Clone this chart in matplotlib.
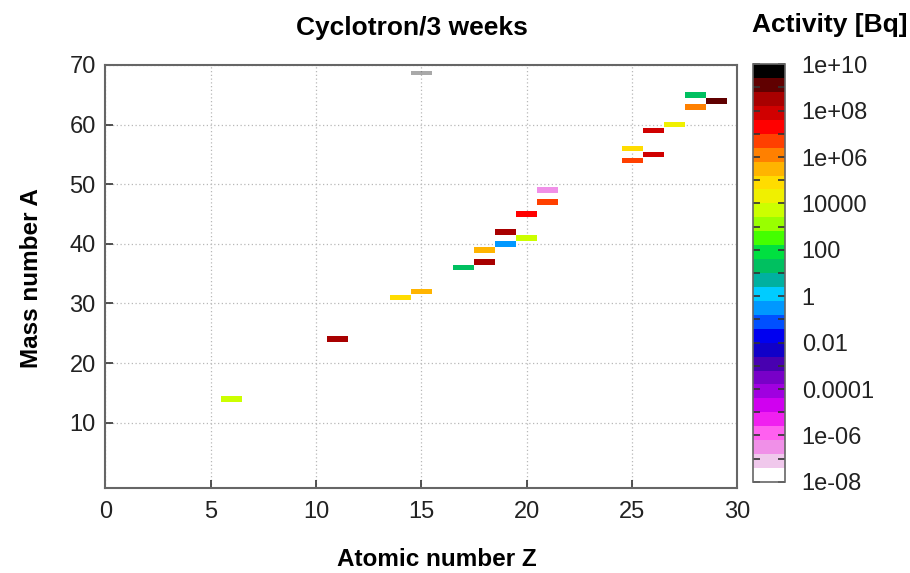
import numpy as np
import matplotlib
matplotlib.use("Agg")
import matplotlib.pyplot as plt
from matplotlib.colors import ListedColormap, LogNorm
from matplotlib.ticker import FixedLocator, FixedFormatter

plt.rcParams['font.family'] = ['Liberation Sans', 'DejaVu Sans']

# isotopes: atomic number, mass number, activity [Bq]
Z = [6, 11, 14, 15, 17, 18, 18, 19, 19, 20, 20, 21, 21, 25, 25, 26, 26, 27, 28, 28, 29]
A = [14, 24, 31, 32, 36, 37, 39, 40, 42, 41, 45, 47, 49, 54, 56, 55, 59, 60, 63, 65, 64]
activity = [5e3, 3e8, 8e4, 3e5, 20, 3e8, 3e5, 0.3, 3e8, 5e3, 2e7, 5e6, 3e-7,
            5e6, 8e4, 8e7, 8e7, 2e4, 1.3e6, 20, 1.2e9]

# faint grey mark at the top edge
ghost_z = [15]
ghost_a = [68.6]

# palette, low to high (30 steps over 1e-8 .. 1e10)
palette = ['#ffffff', '#f0c8ec', '#f090e8', '#ff60f0', '#f020f0', '#d000f0',
           '#a000e0', '#7800c8', '#4800b0', '#1000c8', '#0000f0', '#0050ff',
           '#0098ff', '#00ccff', '#00b0a0', '#00c060', '#00e040', '#44ff00',
           '#99ff00', '#ccff00', '#f0f000', '#ffdc00', '#ffb400', '#ff8000',
           '#ff4000', '#ff0000', '#d00000', '#a80000', '#600000', '#000000']

cbar_ticks = [1e-8, 1e-6, 1e-4, 1e-2, 1, 1e2, 1e4, 1e6, 1e8, 1e10]
cbar_labels = ['1e-08', '1e-06', '0.0001', '0.01', '1', '100', '10000',
               '1e+06', '1e+08', '1e+10']

cmap = ListedColormap(palette)
norm = LogNorm(vmin=1e-8, vmax=1e10)

fig = plt.figure(figsize=(9.1, 5.73), dpi=100)
ax = fig.add_axes([0.1158, 0.148, 0.6945, 0.7386])
cax = fig.add_axes([0.8275, 0.159, 0.0352, 0.729])

colors = [cmap(norm(v)) for v in activity]
ax.barh(A, [1.0] * len(Z), left=np.array(Z) - 0.5, height=0.95, color=colors,
        zorder=3)
ax.barh(ghost_a, [1.0], left=np.array(ghost_z) - 0.5, height=0.7,
        color='#555555', alpha=0.5, zorder=3)

ax.set_xlim(0, 30)
ax.set_ylim(-1, 70)
ax.set_xticks(range(0, 31, 5))
ax.set_yticks(range(10, 71, 10))
ax.grid(True, linestyle=(0, (1, 2)), color='#b8b8b8', linewidth=0.9, zorder=0)
ax.tick_params(direction='in', length=6, width=1.2, color='#333333',
               labelsize=17, labelcolor='#222222')
ax.tick_params(axis='x', pad=9)
ax.tick_params(axis='y', pad=7)
for s in ax.spines.values():
    s.set_color('#666666')
    s.set_linewidth(1.5)

cb = fig.colorbar(plt.cm.ScalarMappable(norm=norm, cmap=cmap), cax=cax)
cb.outline.set_edgecolor('#666666')
cb.outline.set_linewidth(1.2)
cax.yaxis.set_major_locator(FixedLocator(cbar_ticks))
cax.yaxis.set_major_formatter(FixedFormatter(cbar_labels))
cax.yaxis.set_minor_locator(FixedLocator([10.0 ** k for k in range(-7, 10, 2)]))
cax.yaxis.set_minor_formatter(FixedFormatter([]))
cax.tick_params(which='both', direction='in', left=True, right=True,
                length=5, width=1.2, color='#333333')
cax.tick_params(which='major', labelsize=17, labelcolor='#222222', pad=12)

fig.text(0.453, 0.951, 'Cyclotron/3 weeks', ha='center', va='center',
         fontsize=19, fontweight='bold')
fig.text(0.912, 0.956, 'Activity [Bq]', ha='center', va='center',
         fontsize=19, fontweight='bold')
fig.text(0.48, 0.023, 'Atomic number Z', ha='center', va='center',
         fontsize=17.5, fontweight='bold')
fig.text(0.035, 0.515, 'Mass number A', ha='center', va='center',
         rotation=90, fontsize=17.5, fontweight='bold')

fig.savefig('out.png', dpi=100)
